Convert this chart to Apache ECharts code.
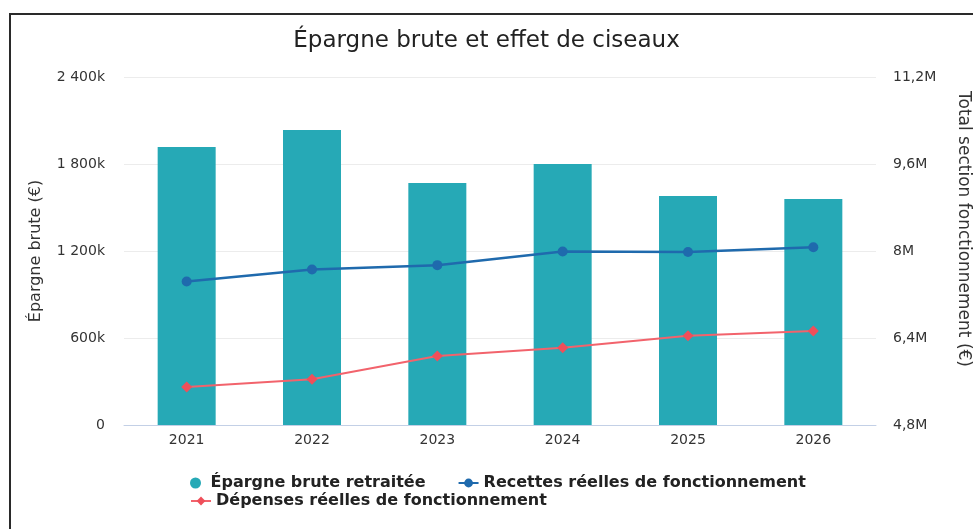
<!DOCTYPE html>
<html lang="fr">
<head>
<meta charset="utf-8">
<title>Épargne brute et effet de ciseaux</title>
<script src="https://cdn.jsdelivr.net/npm/echarts@6/dist/echarts.min.js"></script>
<style>
  html,body{margin:0;padding:0;background:#fff;overflow:hidden;}
  #chart{position:absolute;left:0;top:0;width:973px;height:529px;}
  #frame{position:absolute;left:9px;top:13px;width:962px;height:514px;
    border-top:2px solid #2a2a2a;border-left:2px solid #2a2a2a;pointer-events:none;}
</style>
</head>
<body>
<div id="chart"></div>
<div id="frame"></div>
<script>
// valeurs (€)
const years=['2021','2022','2023','2024','2025','2026'];
const epargneBrute=[1917000,2034000,1669000,1800000,1579000,1559000];
const recettes=[7440000,7660000,7740000,7990000,7980000,8070000];
const depenses=[5500000,5640000,6070000,6220000,6440000,6530000];

const TEAL='#26a9b6', BLUE='#1f6aad', RED='#ef4f5a';
const FONT='DejaVu Sans';

// 2400000 -> "2 400k" ; 8000000 -> "8M" ; 9600000 -> "9,6M"
const fmtK=v=>v===0?'0':String(Math.round(v/1000)).replace(/\B(?=(\d{3})+(?!\d))/g,' ')+'k';
const fmtM=v=>String(+(v/1e6).toFixed(1)).replace('.',',')+'M';

// légende sur deux lignes comme l'original (2 éléments puis 1)
const legendText={fontFamily:FONT,fontSize:16,fontWeight:'bold',color:'#222'};

const chart=echarts.init(document.getElementById('chart'));
chart.setOption({
  animation:false,
  textStyle:{fontFamily:FONT},
  title:{text:'Épargne brute et effet de ciseaux',left:'center',top:25,
    textStyle:{fontFamily:FONT,fontSize:23,fontWeight:'normal',color:'#222'}},
  grid:{left:124,right:97,top:77,bottom:104,outerBoundsMode:'none'},
  legend:[
    {left:185,top:470,itemGap:32,itemWidth:20,itemHeight:11,textStyle:legendText,
     data:[{name:'Épargne brute retraitée',icon:'circle'},
           {name:'Recettes réelles de fonctionnement'}]},
    {left:185,top:488,itemWidth:20,itemHeight:11,textStyle:legendText,
     data:[{name:'Dépenses réelles de fonctionnement'}]}
  ],
  xAxis:{type:'category',data:years,
    axisLine:{lineStyle:{color:'#c3d0e6'}},
    axisTick:{length:10,lineStyle:{color:'#c3d0e6'}},
    axisLabel:{color:'#333',fontSize:14,margin:8}},
  yAxis:[
    {type:'value',min:0,max:2400000,interval:600000,
     name:'Épargne brute (€)',nameLocation:'middle',nameGap:80,
     nameTextStyle:{color:'#333',fontSize:16},
     axisLabel:{color:'#333',fontSize:14,margin:19,formatter:fmtK},
     splitLine:{lineStyle:{color:'#ececec'}}},
    {type:'value',min:4800000,max:11200000,interval:1600000,position:'right',
     name:'Total section fonctionnement (€)',nameLocation:'middle',nameGap:79,nameRotate:-90,
     nameTextStyle:{color:'#333',fontSize:17,padding:[0,44,0,0]},
     axisLabel:{color:'#333',fontSize:14,margin:17,formatter:fmtM},
     splitLine:{show:false}}
  ],
  series:[
    {name:'Épargne brute retraitée',type:'bar',yAxisIndex:0,barWidth:58,
     itemStyle:{color:TEAL},data:epargneBrute},
    {name:'Recettes réelles de fonctionnement',type:'line',yAxisIndex:1,
     symbol:'circle',symbolSize:10,lineStyle:{width:2.5,color:BLUE},
     itemStyle:{color:BLUE},data:recettes},
    {name:'Dépenses réelles de fonctionnement',type:'line',yAxisIndex:1,
     symbol:'diamond',symbolSize:11,lineStyle:{width:2,color:'#f2636c'},
     itemStyle:{color:RED},data:depenses}
  ]
});
</script>
</body>
</html>
